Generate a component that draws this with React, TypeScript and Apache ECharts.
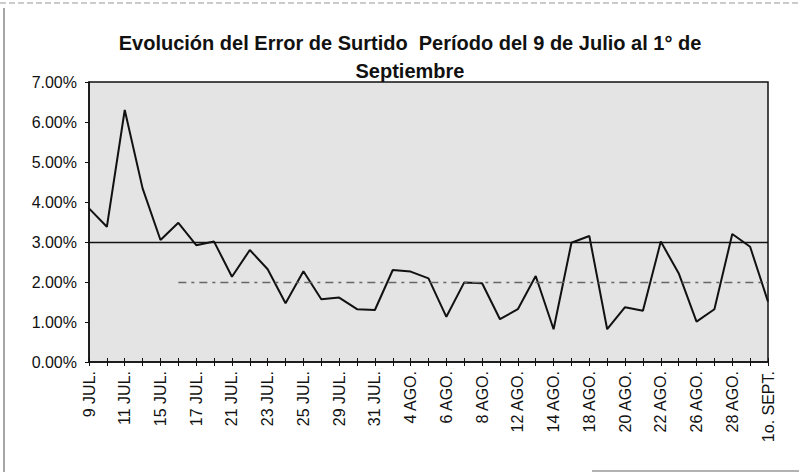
import React, { useEffect, useRef } from "react";
import * as echarts from "echarts";

const categories = [
  "9 JUL.", "10 JUL.", "11 JUL.", "13 JUL.", "15 JUL.", "16 JUL.", "17 JUL.", "19 JUL.",
  "21 JUL.", "22 JUL.", "23 JUL.", "24 JUL.", "25 JUL.", "27 JUL.", "29 JUL.", "30 JUL.",
  "31 JUL.", "2 AGO.", "4 AGO.", "5 AGO.", "6 AGO.", "7 AGO.", "8 AGO.", "10 AGO.",
  "12 AGO.", "13 AGO.", "14 AGO.", "16 AGO.", "18 AGO.", "19 AGO.", "20 AGO.", "21 AGO.",
  "22 AGO.", "24 AGO.", "26 AGO.", "27 AGO.", "28 AGO.", "30 AGO.", "1o. SEPT.",
];

const errorValues = [
  0.0384, 0.0338, 0.063, 0.0434, 0.0305, 0.0348, 0.0292, 0.0301,
  0.0213, 0.028, 0.0232, 0.0147, 0.0227, 0.0157, 0.0161, 0.0132,
  0.013, 0.023, 0.0226, 0.0209, 0.0113, 0.0199, 0.0197, 0.0107,
  0.0132, 0.0215, 0.0082, 0.0298, 0.0315, 0.0082, 0.0137, 0.0128,
  0.0301, 0.0222, 0.0101, 0.0132, 0.032, 0.0288, 0.0151,
];

const limitValue = 0.03;
const targetValue = 0.02;
const targetStartIndex = 5;

const title = "Evolución del Error de Surtido  Período del 9 de Julio al 1° de\nSeptiembre";

export default function App() {
  const ref = useRef<HTMLDivElement>(null);
  useEffect(() => {
    if (!ref.current) return;
    const chart = echarts.init(ref.current, undefined, { renderer: "svg" });
    const font = "'Liberation Sans', Arial, sans-serif";
    chart.setOption({
      animation: false,
      backgroundColor: "#ffffff",
      title: {
        text: title,
        left: 405,
        top: 24,
        textAlign: "center",
        textStyle: {
          fontFamily: font,
          fontWeight: "bold",
          fontSize: 20,
          color: "#111",
          lineHeight: 28,
        },
      },
      grid: {
        left: 89,
        right: 31,
        top: 82,
        bottom: 110,
        show: true,
        backgroundColor: "#e4e4e4",
        borderColor: "#111",
        borderWidth: 1.5,
      },
      xAxis: [
        {
          type: "category",
          data: categories,
          boundaryGap: false,
          axisLine: { lineStyle: { color: "#111", width: 1.5 } },
          axisTick: { show: true, interval: 0, length: 4, lineStyle: { color: "#111" } },
          axisLabel: {
            interval: 1,
            rotate: 90,
            fontFamily: font,
            fontSize: 16,
            color: "#111",
            margin: 9,
          },
          splitLine: { show: false },
        },
        {
          type: "category",
          data: categories,
          boundaryGap: false,
          position: "bottom",
          axisLine: { show: false },
          axisTick: { show: true, inside: true, interval: 0, length: 4, lineStyle: { color: "#111" } },
          axisLabel: { show: false },
          splitLine: { show: false },
        },
      ],
      yAxis: {
        type: "value",
        min: 0,
        max: 0.07,
        interval: 0.01,
        axisLine: { show: true, lineStyle: { color: "#111", width: 1.5 } },
        axisTick: { show: true, length: 4, lineStyle: { color: "#111" } },
        axisLabel: {
          formatter: (v: number) => (v * 100).toFixed(2) + "%",
          fontFamily: font,
          fontSize: 16,
          color: "#111",
          margin: 12,
        },
        splitLine: { show: false },
      },
      series: [
        {
          type: "line",
          data: errorValues,
          symbol: "none",
          lineStyle: { color: "#111", width: 2 },
          markLine: {
            silent: true,
            symbol: "none",
            label: { show: false },
            data: [
              {
                yAxis: limitValue,
                lineStyle: { color: "#111", width: 1.3, type: "solid" },
              },
              [
                {
                  coord: [targetStartIndex, targetValue],
                  lineStyle: { color: "#666", width: 1.3, type: [8, 5, 3, 5] },
                },
                { coord: [categories.length - 1, targetValue] },
              ],
            ],
          },
        },
      ],
      graphic: [
        {
          type: "line",
          shape: { x1: 4, y1: 8, x2: 4, y2: 472 },
          style: { stroke: "#888", lineWidth: 1.5 },
        },
        {
          type: "line",
          shape: { x1: 0, y1: 3, x2: 799, y2: 3 },
          style: { stroke: "#bbb", lineWidth: 1.5, lineDash: [6, 3] },
        },
        {
          type: "line",
          shape: { x1: 592, y1: 471, x2: 799, y2: 471 },
          style: { stroke: "#999", lineWidth: 1.5 },
        },
      ],
    });
    return () => chart.dispose();
  }, []);
  return (
    <div
      ref={ref}
      style={{ position: "fixed", left: 0, top: 0, width: 799, height: 472 }}
    />
  );
}
